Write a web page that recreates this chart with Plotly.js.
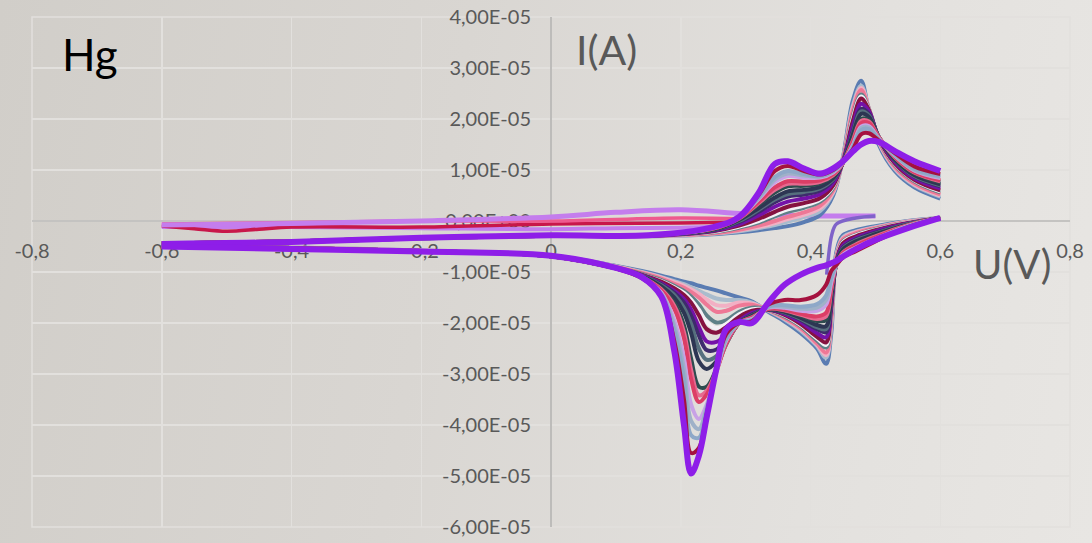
<!DOCTYPE html>
<html>
<head>
<meta charset="utf-8">
<script src="https://cdn.plot.ly/plotly-3.0.1.min.js"></script>
<style>
  html, body { margin: 0; padding: 0; }
  body { width: 1092px; height: 543px; overflow: hidden;
         background: linear-gradient(100deg, #d1cec9 0%, #d9d6d2 40%, #e3e1de 75%, #e8e6e3 100%); }
  #chart { width: 1092px; height: 543px; }
</style>
</head>
<body>
<div id="chart"></div>
<script>
// Current values are in units of 1e-5 A
const UNIT = 1e-5;

// Potential grids (V)
const V_FWD = [-0.6, -0.4, -0.2, 0.0, 0.15, 0.25, 0.29, 0.32, 0.345, 0.365, 0.39, 0.415, 0.435, 0.45, 0.465, 0.478, 0.49, 0.505, 0.53, 0.56, 0.6];
const V_REV = [0.6, 0.55, 0.5, 0.47, 0.45, 0.44, 0.432, 0.424, 0.41, 0.385, 0.36, 0.335, 0.31, 0.29, 0.27, 0.255, 0.24, 0.228, 0.216, 0.205, 0.19, 0.17, 0.14, 0.1, 0.0, -0.2, -0.4, -0.6];

// Anodic (forward) branches, one per cycle, first to last
const fwd01 = [-0.44,-0.40,-0.34,-0.29,-0.30,-0.26,-0.22,-0.18,-0.14,-0.10,-0.02,0.12,0.50,1.25,2.35,2.75,2.15,1.50,0.98,0.66,0.44];
const fwd02 = [-0.45,-0.41,-0.34,-0.29,-0.30,-0.25,-0.20,-0.14,-0.08,-0.01,0.08,0.20,0.55,1.22,2.25,2.65,2.20,1.55,1.02,0.70,0.48];
const fwd03 = [-0.44,-0.40,-0.34,-0.29,-0.30,-0.24,-0.18,-0.12,-0.04,0.04,0.12,0.25,0.57,1.21,2.20,2.61,2.20,1.56,1.04,0.72,0.50];
const fwd04 = [-0.44,-0.40,-0.33,-0.28,-0.29,-0.24,-0.17,-0.09,0.00,0.08,0.17,0.30,0.60,1.20,2.15,2.57,2.20,1.58,1.06,0.74,0.52];
const fwd05 = [-0.45,-0.41,-0.34,-0.29,-0.29,-0.22,-0.13,-0.03,0.09,0.18,0.26,0.38,0.65,1.18,2.05,2.48,2.20,1.60,1.10,0.78,0.56];
const fwd06 = [-0.44,-0.41,-0.33,-0.28,-0.29,-0.21,-0.11,0.00,0.13,0.23,0.30,0.42,0.68,1.17,2.00,2.44,2.19,1.61,1.12,0.80,0.58];
const fwd07 = [-0.44,-0.40,-0.33,-0.28,-0.29,-0.20,-0.09,0.04,0.18,0.28,0.35,0.45,0.70,1.17,1.95,2.40,2.18,1.62,1.13,0.81,0.60];
const fwd08 = [-0.45,-0.41,-0.34,-0.29,-0.29,-0.19,-0.06,0.11,0.28,0.38,0.44,0.53,0.75,1.16,1.85,2.30,2.15,1.64,1.16,0.84,0.64];
const fwd09 = [-0.44,-0.40,-0.33,-0.28,-0.28,-0.18,-0.02,0.18,0.37,0.48,0.52,0.60,0.80,1.15,1.75,2.20,2.10,1.65,1.19,0.87,0.68];
const fwd10 = [-0.45,-0.40,-0.34,-0.28,-0.28,-0.17,0.00,0.22,0.42,0.53,0.57,0.64,0.82,1.15,1.71,2.15,2.07,1.65,1.20,0.88,0.70];
const fwd11 = [-0.45,-0.41,-0.34,-0.29,-0.28,-0.17,0.02,0.25,0.46,0.58,0.61,0.67,0.84,1.14,1.68,2.10,2.04,1.65,1.21,0.90,0.72];
const fwd12 = [-0.44,-0.40,-0.33,-0.28,-0.28,-0.16,0.04,0.32,0.56,0.68,0.69,0.74,0.88,1.14,1.60,2.00,1.98,1.65,1.24,0.93,0.76];
const fwd13 = [-0.44,-0.41,-0.33,-0.29,-0.28,-0.15,0.05,0.35,0.61,0.73,0.73,0.77,0.90,1.14,1.57,1.96,1.95,1.65,1.25,0.95,0.78];
const fwd14 = [-0.45,-0.41,-0.34,-0.29,-0.28,-0.15,0.06,0.38,0.66,0.78,0.77,0.80,0.92,1.14,1.54,1.92,1.92,1.64,1.26,0.96,0.80];
const fwd15 = [-0.44,-0.40,-0.33,-0.28,-0.28,-0.14,0.07,0.43,0.76,0.88,0.85,0.85,0.95,1.14,1.48,1.85,1.86,1.62,1.28,0.99,0.84];
const fwd16 = [-0.45,-0.40,-0.34,-0.28,-0.28,-0.14,0.08,0.45,0.81,0.93,0.89,0.87,0.97,1.15,1.46,1.82,1.83,1.61,1.29,1.00,0.86];
const fwd17 = [-0.45,-0.41,-0.34,-0.29,-0.28,-0.13,0.08,0.47,0.86,0.98,0.92,0.88,0.98,1.15,1.44,1.78,1.80,1.60,1.30,1.02,0.88];
const fwd18 = [-0.44,-0.40,-0.33,-0.28,-0.28,-0.13,0.08,0.51,0.98,1.08,0.98,0.91,1.00,1.16,1.40,1.70,1.72,1.58,1.33,1.07,0.92];
const fwd19 = [-0.45,-0.41,-0.33,-0.28,-0.28,-0.12,0.08,0.55,1.12,1.17,1.03,0.93,1.03,1.17,1.36,1.50,1.57,1.55,1.37,1.17,0.98];

// Cathodic (reverse) branches, one per cycle, first to last
const rev01 = [0.06,0.00,-0.10,-0.18,-0.28,-0.60,-2.20,-2.80,-2.50,-2.20,-1.97,-1.78,-1.58,-1.50,-1.42,-1.36,-1.31,-1.27,-1.22,-1.19,-1.14,-1.07,-0.98,-0.88,-0.68,-0.58,-0.52,-0.48];
const rev02 = [0.06,-0.01,-0.12,-0.21,-0.32,-0.66,-2.05,-2.68,-2.45,-2.15,-1.93,-1.76,-1.60,-1.55,-1.55,-1.52,-1.44,-1.37,-1.30,-1.24,-1.18,-1.10,-1.00,-0.89,-0.68,-0.58,-0.52,-0.49];
const rev03 = [0.06,-0.01,-0.13,-0.22,-0.34,-0.68,-1.98,-2.63,-2.42,-2.12,-1.91,-1.75,-1.62,-1.60,-1.66,-1.65,-1.54,-1.43,-1.34,-1.27,-1.20,-1.11,-1.01,-0.89,-0.68,-0.58,-0.52,-0.49];
const rev04 = [0.06,-0.02,-0.14,-0.24,-0.36,-0.70,-1.92,-2.58,-2.40,-2.10,-1.90,-1.75,-1.64,-1.66,-1.76,-1.78,-1.64,-1.50,-1.39,-1.31,-1.23,-1.13,-1.02,-0.90,-0.69,-0.59,-0.53,-0.49];
const rev05 = [0.06,-0.03,-0.16,-0.27,-0.40,-0.74,-1.82,-2.48,-2.34,-2.06,-1.87,-1.74,-1.70,-1.78,-1.95,-1.99,-1.85,-1.64,-1.48,-1.37,-1.27,-1.16,-1.04,-0.91,-0.69,-0.59,-0.53,-0.50];
const rev06 = [0.06,-0.03,-0.17,-0.28,-0.42,-0.75,-1.77,-2.43,-2.30,-2.04,-1.85,-1.74,-1.73,-1.83,-2.02,-2.10,-1.98,-1.74,-1.54,-1.41,-1.30,-1.18,-1.05,-0.92,-0.69,-0.59,-0.53,-0.50];
const rev07 = [0.06,-0.04,-0.18,-0.30,-0.44,-0.77,-1.72,-2.38,-2.27,-2.02,-1.84,-1.74,-1.76,-1.88,-2.08,-2.19,-2.12,-1.85,-1.60,-1.45,-1.32,-1.19,-1.05,-0.92,-0.69,-0.59,-0.53,-0.50];
const rev08 = [0.06,-0.05,-0.20,-0.33,-0.48,-0.80,-1.63,-2.28,-2.20,-1.98,-1.82,-1.74,-1.80,-1.95,-2.22,-2.37,-2.36,-2.08,-1.74,-1.53,-1.37,-1.22,-1.06,-0.92,-0.69,-0.59,-0.53,-0.50];
const rev09 = [0.06,-0.06,-0.23,-0.36,-0.52,-0.82,-1.55,-2.18,-2.12,-1.94,-1.80,-1.74,-1.83,-2.00,-2.33,-2.52,-2.53,-2.25,-1.86,-1.60,-1.41,-1.24,-1.07,-0.92,-0.69,-0.59,-0.53,-0.50];
const rev10 = [0.06,-0.06,-0.25,-0.38,-0.54,-0.82,-1.51,-2.12,-2.08,-1.92,-1.79,-1.73,-1.85,-2.00,-2.37,-2.65,-2.72,-2.50,-2.02,-1.70,-1.45,-1.26,-1.07,-0.92,-0.69,-0.59,-0.53,-0.50];
const rev11 = [0.06,-0.07,-0.26,-0.40,-0.56,-0.83,-1.47,-2.06,-2.04,-1.90,-1.78,-1.73,-1.86,-2.00,-2.40,-2.75,-2.90,-2.75,-2.20,-1.80,-1.50,-1.28,-1.08,-0.93,-0.69,-0.59,-0.53,-0.50];
const rev12 = [0.06,-0.08,-0.29,-0.44,-0.60,-0.84,-1.39,-1.94,-1.96,-1.86,-1.76,-1.72,-1.88,-2.00,-2.42,-2.90,-3.25,-3.25,-2.70,-2.05,-1.60,-1.32,-1.10,-0.93,-0.69,-0.59,-0.53,-0.50];
const rev13 = [0.06,-0.08,-0.30,-0.46,-0.62,-0.85,-1.35,-1.87,-1.92,-1.84,-1.75,-1.72,-1.89,-2.00,-2.41,-2.93,-3.33,-3.42,-2.92,-2.18,-1.66,-1.34,-1.10,-0.93,-0.69,-0.59,-0.53,-0.50];
const rev14 = [0.06,-0.09,-0.32,-0.48,-0.63,-0.85,-1.31,-1.80,-1.87,-1.82,-1.74,-1.72,-1.90,-2.00,-2.40,-2.95,-3.40,-3.55,-3.10,-2.30,-1.72,-1.36,-1.11,-0.93,-0.69,-0.59,-0.53,-0.50];
const rev15 = [0.06,-0.10,-0.35,-0.52,-0.66,-0.86,-1.21,-1.64,-1.76,-1.76,-1.70,-1.70,-1.92,-2.00,-2.35,-2.95,-3.60,-3.88,-3.60,-2.70,-1.95,-1.40,-1.12,-0.93,-0.69,-0.59,-0.53,-0.50];
const rev16 = [0.06,-0.10,-0.36,-0.54,-0.68,-0.86,-1.15,-1.55,-1.70,-1.72,-1.68,-1.69,-1.93,-2.00,-2.32,-2.94,-3.65,-4.08,-3.92,-2.90,-2.05,-1.42,-1.12,-0.93,-0.69,-0.59,-0.53,-0.50];
const rev17 = [0.06,-0.11,-0.38,-0.56,-0.69,-0.86,-1.10,-1.46,-1.63,-1.68,-1.65,-1.68,-1.94,-2.00,-2.30,-2.92,-3.70,-4.25,-4.20,-3.10,-2.15,-1.44,-1.12,-0.93,-0.69,-0.59,-0.53,-0.50];
const rev18 = [0.06,-0.12,-0.40,-0.59,-0.72,-0.86,-0.98,-1.25,-1.45,-1.55,-1.55,-1.64,-1.96,-2.00,-2.22,-2.90,-3.78,-4.45,-4.55,-3.50,-2.35,-1.47,-1.12,-0.93,-0.69,-0.59,-0.53,-0.50];
const rev19 = [0.06,-0.14,-0.37,-0.55,-0.70,-0.78,-0.83,-0.87,-0.92,-1.05,-1.25,-1.60,-2.00,-1.98,-2.12,-2.90,-3.85,-4.60,-4.95,-4.00,-2.55,-1.48,-1.10,-0.92,-0.68,-0.60,-0.55,-0.50];

// First sweeps near zero current
const vNear1 = [-0.6, -0.4, -0.2, 0.0, 0.1, 0.2, 0.3, 0.4, 0.5];
const iNear1 = [-0.08, -0.05, 0.00, 0.08, 0.17, 0.22, 0.14, 0.10, 0.10];
const vNear2 = [-0.6, -0.55, -0.5, -0.45, -0.4, -0.2, 0.0, 0.2, 0.3, 0.34];
const iNear2 = [-0.10, -0.15, -0.20, -0.16, -0.12, -0.12, -0.06, -0.04, -0.02, 0.00];
const vNear3 = [-0.6, -0.4, -0.2, 0.0, 0.2, 0.3];
const iNear3 = [-0.06, -0.03, 0.00, 0.00, 0.06, 0.04];
const vNear4 = [-0.6, -0.4, -0.2, 0.0, 0.1, 0.2, 0.3];
const iNear4 = [-0.12, -0.12, -0.14, -0.16, -0.14, -0.13, -0.10];
const vStart = [0.5, 0.47, 0.44, 0.433, 0.427, 0.425];
const iStart = [0.10, 0.06, -0.06, -0.26, -0.78, -1.05];

const cycleFwd = [fwd01, fwd02, fwd03, fwd04, fwd05, fwd06, fwd07, fwd08, fwd09, fwd10,
                  fwd11, fwd12, fwd13, fwd14, fwd15, fwd16, fwd17, fwd18, fwd19];
const cycleRev = [rev01, rev02, rev03, rev04, rev05, rev06, rev07, rev08, rev09, rev10,
                  rev11, rev12, rev13, rev14, rev15, rev16, rev17, rev18, rev19];
const cycleColors = ['#5a7cb2', '#a9bccd', '#f2b0c4', '#ee7896', '#5f8088', '#f4f1f6', '#861240',
                     '#7412a8', '#3e2b6c', '#56707e', '#2d3653', '#2e4c4f', '#e76a90', '#dc3e66',
                     '#c8a2e6', '#9fb1c8', '#8ea8c8', '#a5123f', '#8e1ee8'];

const xTicks = [-0.8, -0.6, -0.4, -0.2, 0, 0.2, 0.4, 0.6, 0.8];
const xTickText = ['-0,8', '-0,6', '-0,4', '-0,2', '0', '0,2', '0,4', '0,6', '0,8'];
const yTicks = [4, 3, 2, 1, 0, -1, -2, -3, -4, -5, -6];
const yTickText = ['4,00E-05', '3,00E-05', '2,00E-05', '1,00E-05', '0,00E+00', '-1,00E-05',
                   '-2,00E-05', '-3,00E-05', '-4,00E-05', '-5,00E-05', '-6,00E-05'];

const sc = a => a.map(v => v * UNIT);
const traces = [];
function addLine(x, y, color, width) {
  traces.push({ x: x, y: sc(y), type: 'scatter', mode: 'lines',
    line: { color: color, width: width, shape: 'spline', smoothing: 1 },
    hoverinfo: 'skip', connectgaps: false });
}
addLine(vNear4, iNear4, '#c47ded', 4);
addLine(vNear2, iNear2, '#c8174a', 3.5);
addLine(vNear3, iNear3, '#ee5a8e', 3.5);
addLine(vNear1, iNear1, '#c47ded', 5);
addLine(vStart, iStart, '#7f63c9', 3.5);
for (let k = 0; k < cycleFwd.length; k++) {
  const w = (k === cycleFwd.length - 1) ? 6 : 4;
  addLine(V_FWD, cycleFwd[k], cycleColors[k], w);
  addLine(V_REV, cycleRev[k], cycleColors[k], w);
}

const gridCol = '#e2e0dd';
const tickFont = { family: 'Lato, "Open Sans", sans-serif', size: 20, color: '#595959' };
const layout = {
  width: 1092, height: 543,
  margin: { l: 32, r: 22, t: 17, b: 16, pad: 0 },
  paper_bgcolor: 'rgba(0,0,0,0)', plot_bgcolor: 'rgba(0,0,0,0)',
  showlegend: false,
  xaxis: {
    range: [-0.8, 0.8], tickvals: xTicks, ticktext: xTickText,
    anchor: 'free', position: 0.6, ticks: '', showline: false, ticklabelstandoff: 16,
    showgrid: true, gridcolor: gridCol, gridwidth: 1.5,
    zeroline: true, zerolinecolor: '#bdbcba', zerolinewidth: 1.5,
    tickfont: tickFont, layer: 'below traces', fixedrange: true
  },
  yaxis: {
    range: [-6 * UNIT, 4 * UNIT], tickvals: sc(yTicks), ticktext: yTickText,
    anchor: 'free', position: 0.5, ticks: '', showline: false, ticklabelstandoff: 20,
    showgrid: true, gridcolor: gridCol, gridwidth: 1.5,
    zeroline: true, zerolinecolor: '#c4c3c1', zerolinewidth: 1.5,
    tickfont: tickFont, layer: 'below traces', fixedrange: true
  },
  shapes: [
    { type: 'rect', xref: 'paper', yref: 'paper', x0: 0, x1: 1, y0: 0, y1: 1,
      line: { color: gridCol, width: 1.5 }, layer: 'below' }
  ],
  annotations: [
    { text: 'Hg', xref: 'x', yref: 'y', x: -0.757, y: 3.28 * UNIT, xanchor: 'left', yanchor: 'middle',
      showarrow: false, font: { family: 'Lato, sans-serif', size: 44, color: '#000000' } },
    { text: 'I(A)', xref: 'x', yref: 'y', x: 0.035, y: 3.36 * UNIT, xanchor: 'left', yanchor: 'middle',
      showarrow: false, font: { family: 'Lato, sans-serif', size: 41, color: '#595959' } },
    { text: 'U(V)', xref: 'x', yref: 'y', x: 0.774, y: -0.84 * UNIT, xanchor: 'right', yanchor: 'middle',
      showarrow: false, font: { family: 'Lato, sans-serif', size: 40, color: '#595959' } }
  ]
};

Plotly.newPlot('chart', traces, layout, { displayModeBar: false, staticPlot: true });
</script>
</body>
</html>
